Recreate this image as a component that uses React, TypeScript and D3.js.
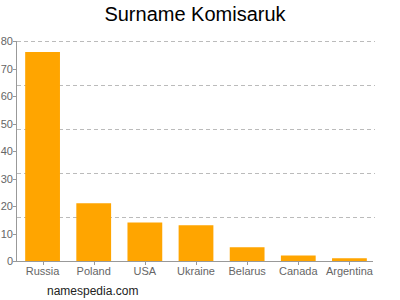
import React from "react";
import * as d3 from "d3";

const categories = ["Russia", "Poland", "USA", "Ukraine", "Belarus", "Canada", "Argentina"];
const values = [76, 21, 14, 13, 5, 2, 1];
const yTicks = [0, 10, 20, 30, 40, 50, 60, 70, 80];
const gridValues = [16, 32, 48, 64, 80];
const title = "Surname Komisaruk";
const footer = "namespedia.com";

export default function App() {
  const width = 400;
  const height = 300;
  const x = d3.scaleBand<string>().domain(categories).range([17, 375]).paddingInner(0.32).paddingOuter(0.16);
  const y = d3.scaleLinear().domain([0, 80]).range([261, 41]);
  const font = "Liberation Sans, Arial, Helvetica, sans-serif";
  return (
    <svg width={width} height={height} style={{ position: "absolute", left: 0, top: 0 }} fontFamily={font}>
      <rect width={width} height={height} fill="#fff" />
      <text x={195} y={21} textAnchor="middle" fontSize={20} fill="#000">{title}</text>
      {gridValues.map((g) => (
        <line key={g} x1={17} x2={375} y1={Math.round(y(g)) + 0.5} y2={Math.round(y(g)) + 0.5} stroke="#bbb" strokeDasharray="4,3" />
      ))}
      {categories.map((c, i) => (
        <rect key={c} x={x(c)} y={y(values[i])} width={x.bandwidth()} height={y(0) - y(values[i])} fill="#FFA500" />
      ))}
      <line x1={16.5} x2={16.5} y1={41} y2={261} stroke="#999" />
      <line x1={16.5} x2={373} y1={261.5} y2={261.5} stroke="#999" />
      {yTicks.map((t) => (
        <g key={t}>
          <line x1={13} x2={17} y1={Math.round(y(t)) + 0.5} y2={Math.round(y(t)) + 0.5} stroke="#999" />
          <text x={13} y={y(t) + 4} textAnchor="end" fontSize={11} fill="#666">{t}</text>
        </g>
      ))}
      {categories.map((c) => {
        const cx = (x(c) as number) + x.bandwidth() / 2;
        return (
          <g key={c}>
            <line x1={Math.round(cx) + 0.5} x2={Math.round(cx) + 0.5} y1={261} y2={265} stroke="#999" />
            <text x={cx} y={275} textAnchor="middle" fontSize={11} fill="#666">{c}</text>
          </g>
        );
      })}
      <text x={47} y={295} fontSize={12} fill="#222">{footer}</text>
    </svg>
  );
}
